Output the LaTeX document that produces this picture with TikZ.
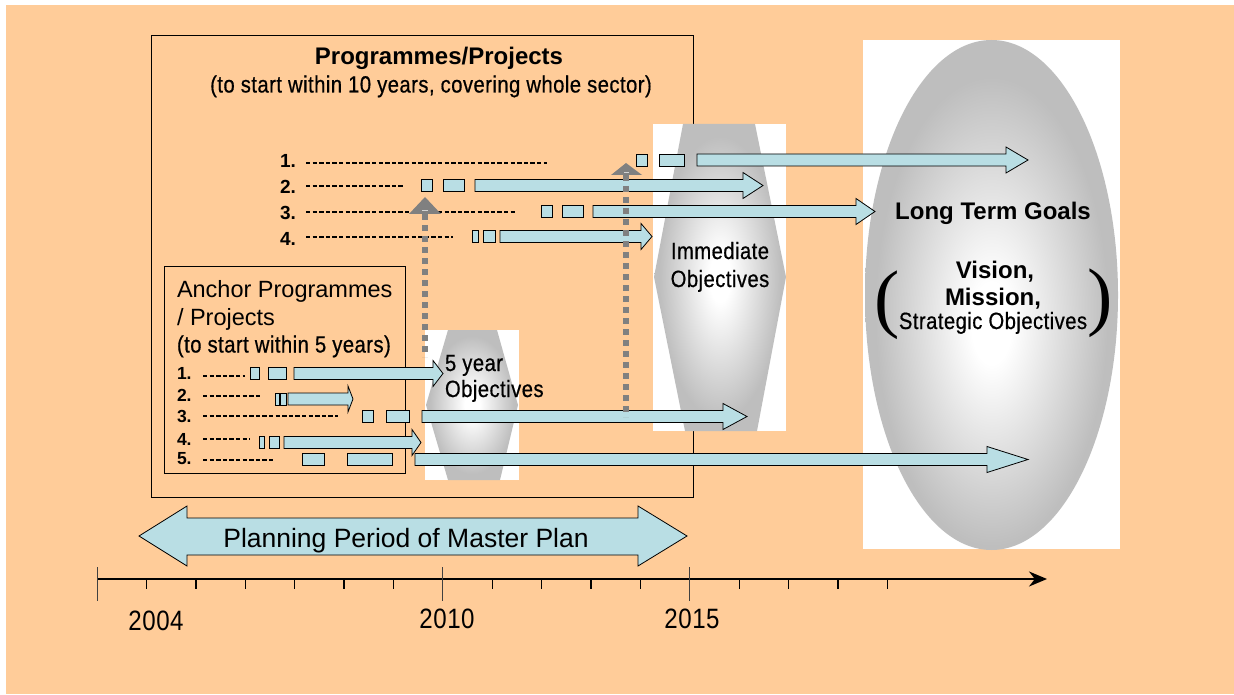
\documentclass[tikz,border=0pt]{standalone}
\usepackage{fontspec}
\setmainfont{Liberation Sans}
\newfontfamily\narrowfont[FakeStretch=0.86, LetterSpace=2, FakeBold=0.6]{Liberation Sans}
\newfontfamily\yearfont[FakeStretch=0.86, LetterSpace=2]{Liberation Sans}
\newfontfamily\parenfont{Liberation Serif}
\usetikzlibrary{arrows.meta}

\definecolor{bgorange}{RGB}{255,204,153}
\definecolor{barblue}{RGB}{185,222,228}
\definecolor{pointergray}{RGB}{128,128,128}
\definecolor{shadegray}{RGB}{190,190,190}

\pgfdeclareradialshading{glow}{\pgfpoint{0bp}{0bp}}{%
  color(0bp)=(white); color(4bp)=(white); color(23bp)=(shadegray); color(50bp)=(shadegray)}
\pgfdeclareradialshading{glowlow}{\pgfpoint{0bp}{-3bp}}{%
  color(0bp)=(white); color(4bp)=(white); color(23bp)=(shadegray); color(50bp)=(shadegray)}

\newcommand\fsz[1]{\fontsize{#1}{#1}\selectfont}

% block arrow: centre y, start x, tip x, head length
\newcommand\blockarrow[4]{%
  \draw[bar] (#2,#1-6) -- (#3-#4,#1-6) -- (#3-#4,#1-13) -- (#3,#1)
    -- (#3-#4,#1+13) -- (#3-#4,#1+6) -- (#2,#1+6) -- cycle;}
% small work package box: centre y, left x, right x
\newcommand\wpbox[3]{\draw[bar] (#2,#1-6) rectangle (#3,#1+6);}
% dashed lead-in line: y, from x, to x
\newcommand\leadin[3]{\draw[leadline] (#2,#1) -- (#3,#1);}

\tikzset{
  frame/.style={draw=black, line width=0.9pt},
  bar/.style={fill=barblue, draw=black, line width=0.8pt, line join=miter},
  leadline/.style={draw=black, line width=1.8pt, dash pattern=on 4.4pt off 2.2pt},
  txt/.style={inner sep=0pt, outer sep=0pt},
  rowlabel/.style={txt, anchor=base west, font=\bfseries\fsz{19}},
  arowlabel/.style={txt, anchor=base west, font=\bfseries\fsz{17.5}},
  narrowtxt/.style={txt, font=\narrowfont\fsz{23.5}},
  boldtxt/.style={txt, font=\bfseries\fsz{24}},
  plaintxt/.style={txt, font=\fsz{23.5}},
  yeartxt/.style={txt, anchor=base, font=\yearfont\fsz{28}},
  pointer/.style={draw=pointergray, line width=6pt, dash pattern=on 6pt off 5pt},
  minortick/.style={draw=black, line width=1.4pt},
  majortick/.style={draw=black!75, line width=1pt},
}

\begin{document}
\begin{tikzpicture}[x=1pt,y=-1pt]
\useasboundingbox (0,0) rectangle (1234,695);
\fill[white] (0,0) rectangle (1234,695);
\fill[bgorange] (6,5) rectangle (1234,694);

% frames
\draw[frame] (151,35) rectangle (693,497);
\draw[frame] (164,266) rectangle (405,473);

% objective shapes
\fill[white] (425,330) rectangle (519,480);
\shade[shading=glow] (448,330) -- (497,330) -- (518,405) -- (500,480) -- (448,480) -- (426,405) -- cycle;
\fill[white] (653,124) rectangle (786,431);
\shade[shading=glow] (683,124) -- (755,124) -- (786,277) -- (757,431) -- (685,431) -- (654,277) -- cycle;
\fill[white] (863,40) rectangle (1120,549);
\shade[shading=glowlow] (991.5,295) ellipse [x radius=126.5pt, y radius=255pt];

% programmes / projects rows
\leadin{163}{306}{547}
\leadin{186}{306}{403}
\leadin{212}{306}{516}
\leadin{237}{306}{453}
\wpbox{160}{636}{647}\wpbox{160}{659}{684}
\wpbox{185.5}{421}{432}\wpbox{185.5}{443}{464}
\wpbox{211.5}{541}{552}\wpbox{211.5}{562}{583}
\wpbox{236.5}{472}{478}\wpbox{236.5}{483}{495}
\blockarrow{160}{697}{1028}{22}
\blockarrow{185.5}{475}{763}{20}
\blockarrow{211.5}{593}{875}{19}
\blockarrow{236.5}{500}{652}{11}

% anchor rows
\leadin{376}{203}{245}
\leadin{396}{203}{262}
\leadin{416}{203}{338}
\leadin{439}{203}{250}
\leadin{460}{203}{275}
\wpbox{373.5}{250}{259}\wpbox{373.5}{268}{286}
\wpbox{399}{275}{279}\wpbox{399}{280}{286}
\wpbox{416.5}{362}{373}\wpbox{416.5}{386}{409}
\wpbox{442.5}{259}{264}\wpbox{442.5}{269}{279}
\wpbox{459.5}{302}{324}\wpbox{459.5}{347}{392}
\blockarrow{373.5}{294}{443}{10}
\blockarrow{399}{288}{353}{5}
\blockarrow{416.5}{422}{747}{24}
\blockarrow{442.5}{284}{421}{9}
\blockarrow{459.5}{415}{1028}{41}

% review pointers
\draw[pointer] (425,214) -- (425,357);
\fill[pointergray] (425,197) -- (441,214) -- (409,214) -- cycle;
\draw[pointergray!35, line width=1pt] (422,211) -- (428,211);
\draw[pointer] (626,175) -- (626,417);
\fill[pointergray] (626,163) -- (642,175) -- (611,175) -- cycle;
\draw[pointergray!35, line width=1pt] (624,173) -- (629,173);

% row labels
\node[rowlabel] (p1) at (280,168) {1.};
\node[rowlabel] (p2) at (280,193.3) {2.};
\node[rowlabel] (p3) at (280,220) {3.};
\node[rowlabel] (p4) at (280,245) {4.};
\node[arowlabel] (a1) at (177,379) {1.};
\node[arowlabel] (a2) at (177,401.7) {2.};
\node[arowlabel] (a3) at (177,422.3) {3.};
\node[arowlabel] (a4) at (177,445) {4.};
\node[arowlabel] (a5) at (177,464) {5.};

% headings
\node[boldtxt, anchor=base] (ptitle) at (439,64.5) {Programmes/Projects};
\node[narrowtxt, anchor=base] (psub) at (431,92.5) {(to start within 10 years, covering whole sector)};
\node[plaintxt, anchor=base west] (atitle1) at (177,297) {Anchor Programmes};
\node[plaintxt, anchor=base west] (atitle2) at (177,325) {/ Projects};
\node[narrowtxt, anchor=base west] (asub) at (177,352.5) {(to start within 5 years)};

% objectives
\node[narrowtxt, anchor=base west] (fy1) at (445,371) {5 year};
\node[narrowtxt, anchor=base west] (fy2) at (445,397) {Objectives};
\node[narrowtxt, anchor=base] (im1) at (720,259) {Immediate};
\node[narrowtxt, anchor=base] (im2) at (720,287) {Objectives};
\node[boldtxt, anchor=base] (lt) at (993,220) {Long Term Goals};
\node[boldtxt, anchor=base] (vis) at (995,278) {Vision,};
\node[boldtxt, anchor=base] (mis) at (993,305) {Mission,};
\node[narrowtxt, anchor=base] (so) at (993,329) {Strategic Objectives};
\node[txt, font=\parenfont\fsz{76}] (lp) at (887,305) {(};
\node[txt, font=\parenfont\fsz{76}] (rp) at (1100,303) {)};

% planning period
\draw[bar] (139,536) -- (187,506) -- (187,518) -- (638,518) -- (638,506) -- (687,536)
  -- (638,566) -- (638,555) -- (187,555) -- (187,566) -- cycle;
\node[txt, font=\fsz{26.5}, anchor=base] (pp) at (406,547) {Planning Period of Master Plan};

% time axis
\coordinate (t0) at (97,579);
\coordinate (tend) at (1047,579);
\draw[line width=2.2pt, -{Stealth[length=18pt,width=15pt]}] (t0) -- (tend);
\foreach \k in {1,...,6,8,9,10,11,13,14,15,16}
  \draw[minortick] ({97+49.4*\k},579) -- ({97+49.4*\k},589);
\foreach \k in {0,7,12}
  \draw[majortick] ({97+49.4*\k},567) -- ({97+49.4*\k},601);
\node[yeartxt] (y1) at (156,630) {2004};
\node[yeartxt] (y2) at (447,628) {2010};
\node[yeartxt] (y3) at (692,628) {2015};
\end{tikzpicture}
\end{document}
